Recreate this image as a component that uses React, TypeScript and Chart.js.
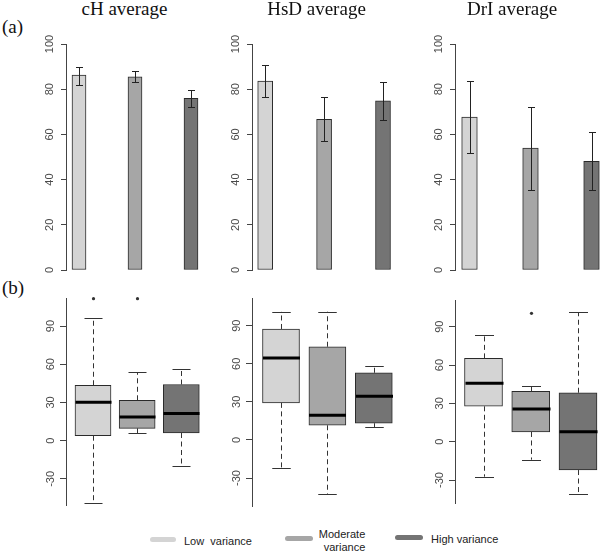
import React, { useEffect, useRef } from "react";
import { Chart, registerables } from "chart.js";
Chart.register(...registerables);

// ---------- data ----------
const groups = ["Low variance", "Moderate variance", "High variance"];
const groupColors = ["#d4d4d4", "#a6a6a6", "#747474"];
const panelTitles = ["cH average", "HsD average", "DrI average"];
const barTicks = [0, 20, 40, 60, 80, 100];
const boxTicks = [-30, 0, 30, 60, 90];

// (a) bar means with error bars
const cHMean = [86.2, 85.5, 76.0];
const cHErrLow = [82.0, 83.0, 72.0];
const cHErrHigh = [90.0, 88.0, 79.5];

const HsDMean = [83.6, 66.7, 74.8];
const HsDErrLow = [76.5, 57.0, 66.2];
const HsDErrHigh = [90.7, 76.7, 83.2];

const DrIMean = [67.7, 54.0, 48.1];
const DrIErrLow = [51.6, 35.3, 35.3];
const DrIErrHigh = [83.6, 72.3, 61.2];

// (b) box plots
const cHBoxMin = [-48.6, 6.0, -20.2];
const cHBoxQ1 = [3.9, 9.7, 6.0];
const cHBoxMedian = [30.2, 18.6, 21.3];
const cHBoxQ3 = [43.5, 31.7, 44.1];
const cHBoxMax = [96.6, 53.8, 55.9];
const cHOutliers = [[111.5], [111.5], []];

const HsDBoxMin = [-22.0, -42.4, 10.0];
const HsDBoxQ1 = [29.2, 11.6, 13.2];
const HsDBoxMedian = [64.5, 19.5, 34.5];
const HsDBoxQ3 = [87.4, 73.4, 52.9];
const HsDBoxMax = [100.9, 101.0, 58.4];
const HsDOutliers = [[], [], []];

const DrIBoxMin = [-27.4, -14.1, -40.7];
const DrIBoxQ1 = [27.7, 7.6, -22.2];
const DrIBoxMedian = [45.7, 25.6, 7.8];
const DrIBoxQ3 = [65.2, 39.4, 38.3];
const DrIBoxMax = [83.7, 43.8, 101.3];
const DrIOutliers = [[], [100.5], []];

// ---------- layout (positions / styles) ----------
const AXIS_W = 40;
const PAD = 14;
const AXIS_COLOR = "#444";
const EDGE_COLOR = "#2a2a2a";
const SANS = "'Liberation Sans', Arial, sans-serif";
const SERIF = "'Liberation Serif', 'Times New Roman', serif";

const topLayout = [
  { axisX: 66, first: 79, step: 56, barW: 14, right: 214 },
  { axisX: 252, first: 265.2, step: 58.9, barW: 15, right: 402 },
  { axisX: 455, first: 469.5, step: 61, barW: 15.6, right: 600 },
];
const topArea = { top: 44, bottom: 270, yMin: 0, yMax: 100 };

const bottomLayout = [
  { axisX: 66, first: 93, step: 44.15, boxW: 36, right: 215, top: 298, bottom: 505, yMin: -50.5, yMax: 112 },
  { axisX: 252, first: 281, step: 46.4, boxW: 37, right: 402, top: 298, bottom: 506, yMin: -52, yMax: 111.8 },
  { axisX: 455, first: 483.5, step: 47.25, boxW: 38, right: 600, top: 300, bottom: 503, yMin: -48, yMax: 110.9 },
];

const barSets = [
  { mean: cHMean, lo: cHErrLow, hi: cHErrHigh },
  { mean: HsDMean, lo: HsDErrLow, hi: HsDErrHigh },
  { mean: DrIMean, lo: DrIErrLow, hi: DrIErrHigh },
];
const boxSets = [
  { min: cHBoxMin, q1: cHBoxQ1, med: cHBoxMedian, q3: cHBoxQ3, max: cHBoxMax, out: cHOutliers },
  { min: HsDBoxMin, q1: HsDBoxQ1, med: HsDBoxMedian, q3: HsDBoxQ3, max: HsDBoxMax, out: HsDOutliers },
  { min: DrIBoxMin, q1: DrIBoxQ1, med: DrIBoxMedian, q3: DrIBoxQ3, max: DrIBoxMax, out: DrIOutliers },
];

function yAxis(min: number, max: number, ticks: number[], tickLen: number, pad: number) {
  return {
    type: "linear" as const,
    min,
    max,
    afterBuildTicks: (s: any) => {
      s.ticks = ticks.map((v) => ({ value: v }));
    },
    afterFit: (s: any) => {
      s.width = AXIS_W;
    },
    border: { display: true, color: AXIS_COLOR, width: 1 },
    grid: {
      display: true,
      drawOnChartArea: false,
      drawTicks: true,
      tickLength: tickLen,
      color: AXIS_COLOR,
      lineWidth: 1,
    },
    ticks: {
      minRotation: 90,
      maxRotation: 90,
      crossAlign: "center" as const,
      padding: pad,
      color: "#4a4a4a",
      font: { family: SANS, size: 11 },
      callback: (v: any) => String(v),
    },
  };
}

function xAxis(axisX: number, first: number, step: number, right: number) {
  const min = 1 - (first - axisX) / step;
  const max = min + (right - axisX) / step;
  return { type: "linear" as const, display: false, offset: false, min, max };
}

function crisp(v: number) {
  return Math.round(v) + 0.5;
}

function makeBarConfig(p: number) {
  const L = topLayout[p];
  const d = barSets[p];
  const errPlugin = {
    id: "errbars" + p,
    afterDatasetsDraw(chart: any) {
      const { ctx } = chart;
      const x = chart.scales.x;
      const y = chart.scales.y;
      ctx.save();
      ctx.strokeStyle = "#222";
      ctx.lineWidth = 1;
      d.lo.forEach((lo: number, i: number) => {
        const px = crisp(x.getPixelForValue(i + 1));
        const y1 = crisp(y.getPixelForValue(lo));
        const y2 = crisp(y.getPixelForValue(d.hi[i]));
        const cw = 3.5;
        ctx.beginPath();
        ctx.moveTo(px, y1);
        ctx.lineTo(px, y2);
        ctx.moveTo(px - cw, y1);
        ctx.lineTo(px + cw, y1);
        ctx.moveTo(px - cw, y2);
        ctx.lineTo(px + cw, y2);
        ctx.stroke();
      });
      ctx.restore();
    },
  };
  return {
    type: "bar" as const,
    data: {
      datasets: [
        {
          label: "mean",
          data: d.mean.map((m: number, i: number) => ({ x: i + 1, y: m })),
          backgroundColor: groupColors,
          borderColor: EDGE_COLOR,
          borderWidth: 1,
          borderSkipped: false,
          barThickness: L.barW,
        },
      ],
    },
    options: {
      responsive: false,
      animation: false as const,
      devicePixelRatio: 1,
      layout: { padding: { top: PAD, bottom: PAD, left: 0, right: 0 } },
      scales: {
        x: xAxis(L.axisX, L.first, L.step, L.right),
        y: yAxis(topArea.yMin, topArea.yMax, barTicks, 5, 2),
      },
      plugins: { legend: { display: false }, tooltip: { enabled: false } },
    },
    plugins: [errPlugin],
  };
}

function makeBoxConfig(p: number) {
  const L = bottomLayout[p];
  const d = boxSets[p];
  const boxPlugin = {
    id: "boxparts" + p,
    afterDatasetsDraw(chart: any) {
      const { ctx } = chart;
      const x = chart.scales.x;
      const y = chart.scales.y;
      ctx.save();
      d.q1.forEach((q1: number, i: number) => {
        const px = crisp(x.getPixelForValue(i + 1));
        const yMin = y.getPixelForValue(d.min[i]);
        const yQ1 = y.getPixelForValue(q1);
        const yQ3 = y.getPixelForValue(d.q3[i]);
        const yMax = y.getPixelForValue(d.max[i]);
        const yMed = y.getPixelForValue(d.med[i]);
        ctx.strokeStyle = "#333";
        ctx.lineWidth = 1;
        ctx.setLineDash([5, 3.5]);
        ctx.beginPath();
        ctx.moveTo(px, yQ3);
        ctx.lineTo(px, yMax);
        ctx.moveTo(px, yQ1);
        ctx.lineTo(px, yMin);
        ctx.stroke();
        ctx.setLineDash([]);
        const cw = L.boxW / 4;
        ctx.strokeStyle = "#333";
        ctx.beginPath();
        ctx.moveTo(px - cw, crisp(yMax));
        ctx.lineTo(px + cw, crisp(yMax));
        ctx.moveTo(px - cw, crisp(yMin));
        ctx.lineTo(px + cw, crisp(yMin));
        ctx.stroke();
        ctx.strokeStyle = "#000";
        ctx.lineWidth = 3;
        ctx.beginPath();
        ctx.moveTo(px - L.boxW / 2, yMed);
        ctx.lineTo(px + L.boxW / 2, yMed);
        ctx.stroke();
        ctx.fillStyle = "#333";
        d.out[i].forEach((o: number) => {
          ctx.beginPath();
          ctx.arc(px, y.getPixelForValue(o), 1.6, 0, Math.PI * 2);
          ctx.fill();
        });
      });
      ctx.restore();
    },
  };
  return {
    type: "bar" as const,
    data: {
      datasets: [
        {
          label: "box",
          data: d.q1.map((q1: number, i: number) => ({ x: i + 1, y: [q1, d.q3[i]] })),
          backgroundColor: groupColors,
          borderColor: EDGE_COLOR,
          borderWidth: 1,
          borderSkipped: false,
          barThickness: L.boxW,
        },
      ],
    },
    options: {
      responsive: false,
      animation: false as const,
      devicePixelRatio: 1,
      layout: { padding: { top: PAD, bottom: PAD, left: 0, right: 0 } },
      scales: {
        x: xAxis(L.axisX, L.first, L.step, L.right),
        y: yAxis(L.yMin, L.yMax, boxTicks, 6, 1),
      },
      plugins: { legend: { display: false }, tooltip: { enabled: false } },
    },
    plugins: [boxPlugin],
  };
}

function ChartCanvas(props: { left: number; top: number; width: number; height: number; make: () => any }) {
  const ref = useRef<HTMLCanvasElement>(null);
  useEffect(() => {
    const chart = new Chart(ref.current as HTMLCanvasElement, props.make());
    return () => chart.destroy();
  }, []);
  return (
    <canvas
      ref={ref}
      width={props.width}
      height={props.height}
      style={{ position: "absolute", left: props.left, top: props.top, width: props.width, height: props.height }}
    />
  );
}

const titleCenters = [124.5, 316.5, 512];
const legendSwatches = [
  { left: 150, width: 26, cy: 539.5 },
  { left: 285, width: 28, cy: 538.8 },
  { left: 395, width: 28, cy: 537 },
];

export default function App() {
  return (
    <div
      style={{
        position: "absolute",
        left: 0,
        top: 0,
        width: 600,
        height: 553,
        background: "#fff",
        overflow: "hidden",
      }}
    >
      {topLayout.map((L, p) => (
        <ChartCanvas
          key={"t" + p}
          left={L.axisX - AXIS_W}
          top={topArea.top - PAD}
          width={L.right - (L.axisX - AXIS_W)}
          height={topArea.bottom - topArea.top + 2 * PAD}
          make={() => makeBarConfig(p)}
        />
      ))}
      {bottomLayout.map((L, p) => (
        <ChartCanvas
          key={"b" + p}
          left={L.axisX - AXIS_W}
          top={L.top - PAD}
          width={L.right - (L.axisX - AXIS_W)}
          height={L.bottom - L.top + 2 * PAD}
          make={() => makeBoxConfig(p)}
        />
      ))}
      {panelTitles.map((t, i) => (
        <div
          key={t}
          style={{
            position: "absolute",
            left: titleCenters[i] - 100,
            width: 200,
            top: -1,
            textAlign: "center",
            fontFamily: SERIF,
            fontSize: 19,
            lineHeight: "19px",
            color: "#111",
            whiteSpace: "nowrap",
          }}
        >
          {t}
        </div>
      ))}
      <div style={{ position: "absolute", left: 2, top: 17, fontFamily: SERIF, fontSize: 19, lineHeight: "19px", color: "#111" }}>(a)</div>
      <div style={{ position: "absolute", left: 2, top: 278, fontFamily: SERIF, fontSize: 19, lineHeight: "19px", color: "#111" }}>(b)</div>
      {legendSwatches.map((s, i) => (
        <div
          key={"sw" + i}
          title={groups[i]}
          style={{
            position: "absolute",
            left: s.left,
            top: s.cy - 2.5,
            width: s.width,
            height: 5,
            borderRadius: 2.5,
            background: groupColors[i],
          }}
        />
      ))}
      <div style={{ position: "absolute", left: 184, top: 536.4, fontFamily: SANS, fontSize: 11, lineHeight: "11px", color: "#222", whiteSpace: "pre" }}>
        {"Low  variance"}
      </div>
      <div
        style={{
          position: "absolute",
          left: 265.3,
          width: 100,
          top: 527.8,
          textAlign: "right",
          fontFamily: SANS,
          fontSize: 11,
          lineHeight: "13.4px",
          color: "#222",
        }}
      >
        Moderate
        <br />
        variance
      </div>
      <div style={{ position: "absolute", left: 431, top: 534, fontFamily: SANS, fontSize: 11, lineHeight: "11px", color: "#222", whiteSpace: "nowrap" }}>
        High variance
      </div>
    </div>
  );
}
